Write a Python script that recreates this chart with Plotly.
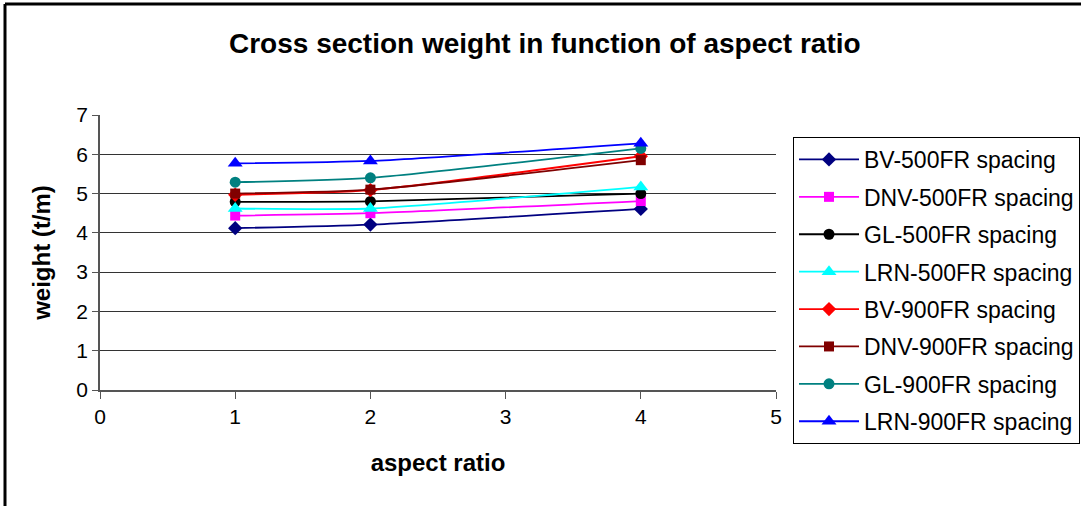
import plotly.graph_objects as go

aspect_ratio = [1, 2, 4]
series_names = ["BV-500FR spacing", "DNV-500FR spacing", "GL-500FR spacing", "LRN-500FR spacing",
                "BV-900FR spacing", "DNV-900FR spacing", "GL-900FR spacing", "LRN-900FR spacing"]
bv_500 = [4.12, 4.21, 4.61]
dnv_500 = [4.44, 4.50, 4.81]
gl_500 = [4.79, 4.80, 5.00]
lrn_500 = [4.62, 4.62, 5.17]
bv_900 = [4.97, 5.09, 5.95]
dnv_900 = [5.00, 5.10, 5.85]
gl_900 = [5.29, 5.40, 6.15]
lrn_900 = [5.77, 5.83, 6.28]
series_values = [bv_500, dnv_500, gl_500, lrn_500, bv_900, dnv_900, gl_900, lrn_900]

colors = ["#000080", "#FF00FF", "#000000", "#00FFFF", "#FF0000", "#800000", "#008080", "#0000FF"]
symbols = ["diamond", "square", "circle", "triangle-up", "diamond", "square", "circle", "triangle-up"]
sizes = [11, 10, 11, 13, 11, 10, 11, 13]

FONT = "Liberation Sans, Arial, sans-serif"

fig = go.Figure()
for i, (name, vals) in enumerate(zip(series_names, series_values)):
    fig.add_trace(go.Scatter(
        x=aspect_ratio, y=vals, name=name, mode="lines+markers",
        line=dict(color=colors[i], width=1.8, shape="spline", smoothing=0.6),
        marker=dict(symbol=symbols[i], size=sizes[i], color=colors[i]),
        legendgroup=f"g{i}",
    ))

L, R, T, B = 100, 305, 115, 116
W, H = 1081, 506
pw, ph = W - L - R, H - T - B

def px_x(px):
    return (px - L) / pw

def px_y(py):
    return (H - B - py) / ph

fig.update_layout(
    width=W, height=H,
    margin=dict(l=L, r=R, t=T, b=B, autoexpand=False),
    paper_bgcolor="white", plot_bgcolor="white",
    font=dict(family=FONT, color="black"),
    title=dict(text="<b>Cross section weight in function of aspect ratio</b>",
               x=0.504, xanchor="center", y=1 - 43 / H, yanchor="middle",
               font=dict(size=28, family=FONT, color="black")),
    legend=dict(x=px_x(793), xanchor="left", y=px_y(137), yanchor="top",
                bordercolor="black", borderwidth=1, bgcolor="white",
                font=dict(size=23, family=FONT, color="black"),
                tracegroupgap=4.5, traceorder="grouped", itemwidth=60, maxheight=440),
    showlegend=True,
    shapes=[
        dict(type="line", xref="paper", yref="paper", x0=px_x(5), x1=px_x(5),
             y0=px_y(4), y1=px_y(H + 5), line=dict(color="black", width=3)),
        dict(type="line", xref="paper", yref="paper", x0=px_x(5), x1=px_x(W + 5),
             y0=px_y(4), y1=px_y(4), line=dict(color="black", width=3)),
    ],
)

fig.update_xaxes(range=[0, 5], dtick=1, tick0=0, showgrid=False, zeroline=False,
                 showline=True, linecolor="#555", linewidth=1.5,
                 ticks="outside", ticklen=7, tickcolor="#555", automargin=False,
                 tickfont=dict(size=21, family=FONT, color="black"),
                 title=dict(text="<b>aspect ratio</b>", font=dict(size=24, family=FONT, color="black"),
                            standoff=27))
fig.update_yaxes(range=[0, 7], dtick=1, tick0=0, showgrid=True, gridcolor="#333", gridwidth=1,
                 zeroline=False, showline=True, linecolor="#555", linewidth=1.5,
                 ticks="outside", ticklen=6, tickcolor="#555", automargin=False,
                 tickfont=dict(size=21, family=FONT, color="black"),
                 title=dict(text="<b>weight (t/m)</b>", font=dict(size=24, family=FONT, color="black"),
                            standoff=19))

fig.write_html("out.html", config={"displayModeBar": False},
               post_script="document.body.style.margin='0';")
